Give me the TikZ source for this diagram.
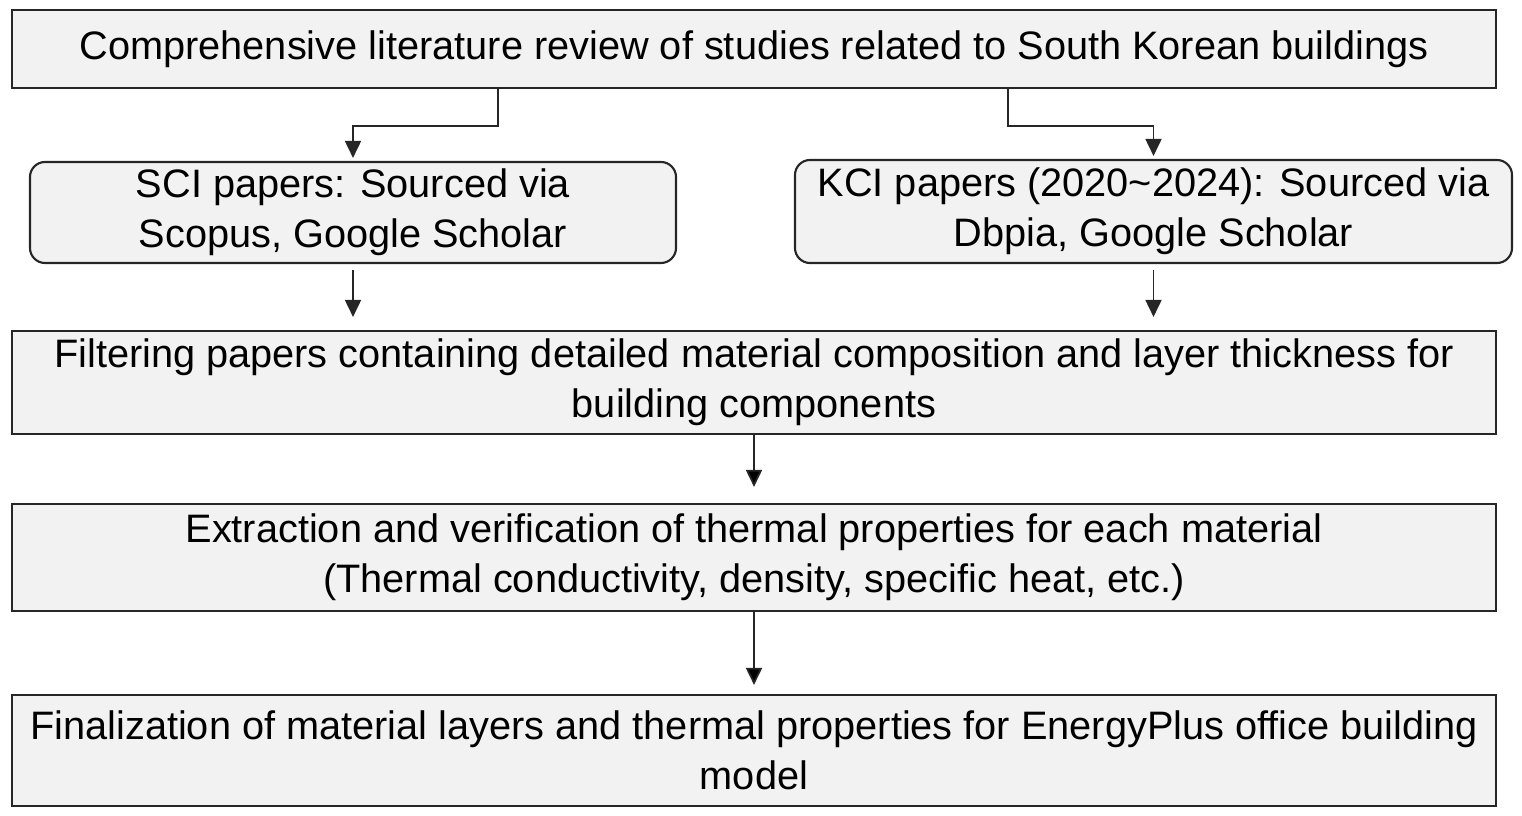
\documentclass[tikz,border=0pt]{standalone}
\usepackage{fontspec}
\setmainfont{Liberation Sans}
\usepackage{tikz}
\usetikzlibrary{arrows.meta}
\pgfdeclarelayer{bg}
\pgfsetlayers{bg,main}
\tikzset{
    every node/.style={rectangle, inner sep=0mm, draw=black!85, fill=black!5, line width=1.2pt, align=center, font=\fontsize{22.6}{28.5}\selectfont}
}
\tikzset{rbox/.style={rounded corners=0.3cm}}
\tikzset{arr/.style={line width=1pt, draw=black!85, -{Triangle[width=0.32cm,length=0.34cm]}}}
\begin{document}
\begin{tikzpicture}
        \useasboundingbox (0cm, 0cm) rectangle (30.440000cm, 16.300000cm);
        \node (b0) [minimum width=29.68cm, minimum height=1.56cm] at (15.080000cm, 15.320000cm) {Comprehensive literature review of studies related to South Korean buildings};
        \node (b1) [rbox, minimum width=12.92cm, minimum height=2.02cm] at (7.060000cm, 12.050000cm) {SCI papers: Sourced via\\Scopus, Google Scholar};
        \node (b2) [rbox, minimum width=14.34cm, minimum height=2.06cm] at (23.070000cm, 12.070000cm) {KCI papers (2020\textasciitilde2024): Sourced via\\Dbpia, Google Scholar};
        \node (b3) [minimum width=29.68cm, minimum height=2.06cm] at (15.080000cm, 8.650000cm) {Filtering papers containing detailed material composition and layer thickness for\\building components};
        \node (b4) [minimum width=29.68cm, minimum height=2.14cm] at (15.080000cm, 5.150000cm) {Extraction and verification of thermal properties for each material\\(Thermal conductivity, density, specific heat, etc.)};
        \node (b5) [minimum width=29.68cm, minimum height=2.22cm] at (15.080000cm, 1.290000cm) {Finalization of material layers and thermal properties for EnergyPlus office building\\model};
        \begin{pgfonlayer}{bg}
                \draw [arr] ([xshift=-5.12cm]b0.south) -- ++(0cm, -0.74cm) -| ([yshift=0.06cm]b1.north);
                \draw [arr] ([xshift=5.08cm]b0.south) -- ++(0cm, -0.74cm) -| ([yshift=0.06cm]b2.north);
                \draw [arr, shorten <=0.12cm, shorten >=0.26cm] (b1.south) -- (b1.south |- b3.north);
                \draw [arr, shorten <=0.12cm, shorten >=0.26cm] (b2.south) -- (b2.south |- b3.north);
                \draw [arr, shorten >=0.32cm] (b3) edge (b4);
                \draw [arr, shorten >=0.18cm] (b4) edge (b5);
        \end{pgfonlayer}
\end{tikzpicture}
\end{document}
